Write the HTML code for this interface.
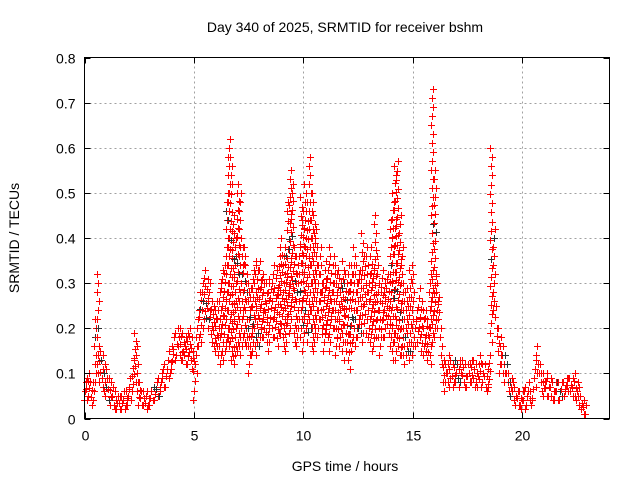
<!DOCTYPE html>
<html><head><meta charset="utf-8"><style>
body{margin:0;background:#fff;}
svg{display:block;font-family:"Liberation Sans",sans-serif;}
</style></head><body>
<svg id="chart" width="640" height="480" viewBox="0 0 640 480">
<rect width="640" height="480" fill="#fff"/>
<g id="grid"></g>
<g id="marks"></g>
<rect x="84.5" y="57.5" width="525" height="361" fill="none" stroke="#000" stroke-width="1"/>
<g id="ticks"></g>
<text x="345" y="32" font-size="14" text-anchor="middle">Day 340 of 2025, SRMTID for receiver bshm</text>
<text x="345" y="471" font-size="14" text-anchor="middle">GPS time / hours</text>
<text transform="translate(19,238) rotate(-90)" font-size="14" text-anchor="middle">SRMTID / TECUs</text>
</svg>
<script>
const xTicks=[0,5,10,15,20];
const yTicks=[0,0.1,0.2,0.3,0.4,0.5,0.6,0.7,0.8];
const yTickLabels=["0","0.1","0.2","0.3","0.4","0.5","0.6","0.7","0.8"];
const tStart=0, tStep=0.1;
const loVals=[4,4,5,3,4,6,10,8,7,6, 5,4,3,3,2,2,2,2,2,3, 3,4,6,8,6,3,3,3,2,3, 3,4,4,5,5,6,7,7,9,10, 11,13,14,14,13,13,12,12,13,11, 4,10,16,17,20,22,20,22,17,16, 15,14,12,13,15,16,16,13,12,14, 15,14,16,17,16,10,14,15,14,17, 16,18,18,17,15,20,18,18,16,19, 19,16,15,19,20,25,17,16,18,20, 15,20,17,20,16,15,18,20,20,15, 17,18,15,20,20,14,16,18,13,17, 15,11,15,16,18,18,19,17,19,22, 18,15,16,18,18,14,18,18,21,19, 16,13,13,16,14,14,12,14,13,15, 14,16,17,18,15,14,15,13,12,17, 18,20,22,12,8,6,8,7,7,8, 8,7,8,8,7,7,8,8,7,8, 7,7,8,7,6,7,17,24,20,15, 10,10,8,8,6,5,4,3,3,3, 2,2,3,4,3,4,7,10,8,6, 5,5,5,5,4,4,4,4,5,5, 6,6,6,5,5,4,3,2,1,1];
const hiVals=[8,9,10,8,8,22,32,15,13,14, 11,9,8,7,6,5,5,5,6,6, 7,9,13,19,16,8,6,6,5,6, 6,6,7,8,9,10,11,12,13,15, 16,18,19,20,20,19,18,19,20,18, 15,18,24,28,30,33,31,30,26,25, 24,26,30,33,36,50,62,58,45,40, 52,50,40,38,34,30,29,33,34,35, 35,31,32,30,30,31,34,29,33,36, 40,36,38,48,55,52,38,36,38,49, 46,52,48,58,50,45,42,34,38,30, 35,33,38,30,36,34,33,30,35,32, 30,34,34,38,36,32,33,41,36,38, 32,38,33,45,36,30,33,30,31,32, 44,50,56,57,45,38,30,28,29,33, 34,22,24,29,26,24,24,22,32,73, 55,32,27,20,13,12,14,13,12,13, 12,13,12,13,12,12,12,13,13,12, 12,14,12,12,11,14,60,42,25,20, 18,16,14,12,10,9,8,7,6,6, 6,6,7,8,6,9,13,16,12,10, 10,10,9,9,8,8,8,8,8,8, 9,9,9,9,10,8,7,5,4,3];
const NS="http://www.w3.org/2000/svg";
const X0=84.5,X1=609.5,Y0=418.5,Y1=57.5;
function xs(t){return X0+(t-0)/(24-0)*(X1-X0);}
function ys(v){return Y0-(v-0)/(0.8-0)*(Y0-Y1);}
function el(tag,attrs,parent){const e=document.createElementNS(NS,tag);for(const k in attrs)e.setAttribute(k,attrs[k]);parent.appendChild(e);return e;}
const grid=document.getElementById('grid'),ticks=document.getElementById('ticks'),marks=document.getElementById('marks');
yTicks.forEach((v,i)=>{const y=Math.round(ys(v))+0.5;
 if(i>0&&i<yTicks.length-1){const g=el('line',{x1:X0,x2:X1,y1:y,y2:y,stroke:'#a0a0a0','stroke-dasharray':'2,3'},grid);
 
 }
 el('line',{x1:X0,x2:X0+6,y1:y,y2:y,stroke:'#000'},ticks);
 el('line',{x1:X1,x2:X1-6,y1:y,y2:y,stroke:'#000'},ticks);
 const t=el('text',{x:X0-9,y:y+5,'font-size':14,'text-anchor':'end'},ticks);t.textContent=yTickLabels[i];
 
 
});
xTicks.forEach((v,i)=>{const x=Math.round(xs(v))+0.5;
 if(i>0){const g=el('line',{x1:x,x2:x,y1:Y0,y2:Y1,stroke:'#a0a0a0','stroke-dasharray':'2,3'},grid);
 
 }
 el('line',{x1:x,x2:x,y1:Y0,y2:Y0-6,stroke:'#000'},ticks);
 el('line',{x1:x,x2:x,y1:Y1,y2:Y1+6,stroke:'#000'},ticks);
 const t=el('text',{x:x,y:Y0+22,'font-size':14,'text-anchor':'middle'},ticks);t.textContent=String(v);
 
 
});
function plus(x,y,col){const p=el('path',{d:`M${x-3.5},${y}h7M${x},${y-3.5}v7`,stroke:col,'stroke-width':1,fill:'none'},marks);
 
 }
loVals.forEach((lo,i)=>{const hi=hiVals[i];const t=tStart+i*tStep;
 const a=lo/100,b=hi/100;const n=Math.max(2,Math.round((b-a)/0.02)+1);
 for(let k=0;k<n;k++){const v=a+(b-a)*k/(n-1);const dx=((k*7+i*3)%5-2)*0.5;
  const x=xs(t)+dx,y=ys(v);plus(Math.round(x)+0.5,Math.round(y)+0.5,((k+i)%23==11)?'#303030':'#ff0000');}
});
</script>
</body></html>
